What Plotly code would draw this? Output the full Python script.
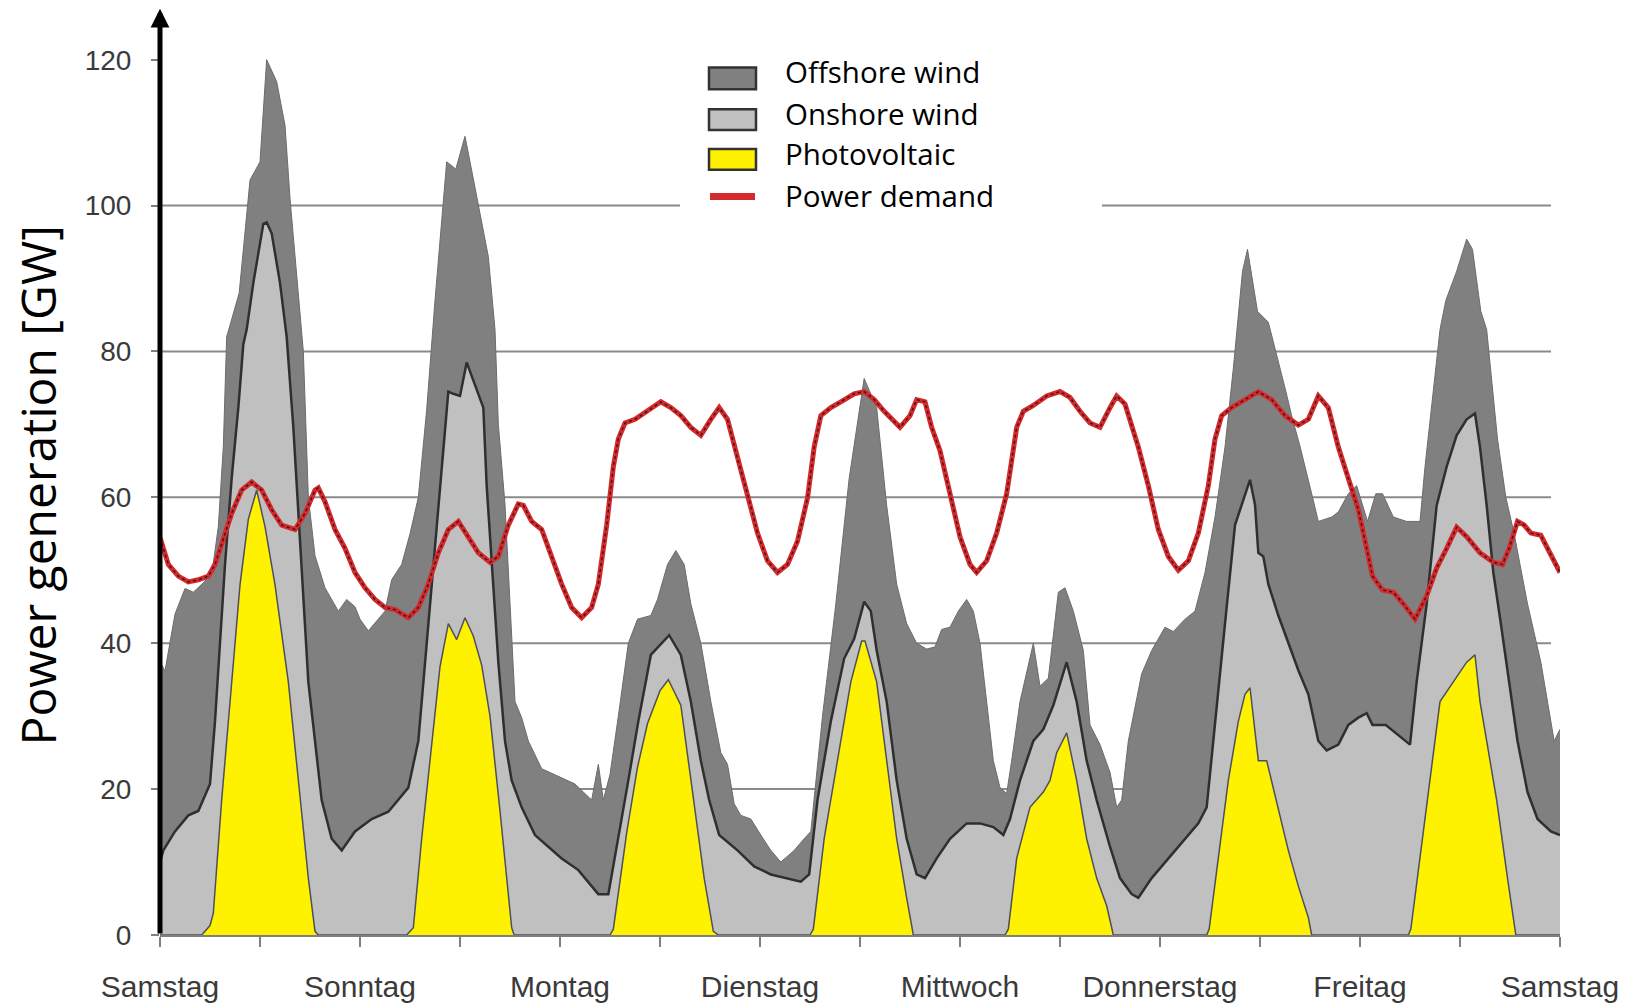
import plotly.graph_objects as go

# Hours are counted from Saturday 00:00; values in GW.
# The areas are stacked: PV at the bottom, onshore wind on top of PV,
# offshore wind on top of both.  Each list holds the upper edge of a layer.
offshore_top = [
    (0, 37.5), (0.6, 36.2), (1.8, 44), (3, 47.5), (4, 47), (5.4, 48.5), (6.4, 51), (7, 56),
    (7.6, 67), (8, 82), (9.5, 88), (10.8, 103.5), (12, 106), (12.8, 120), (14, 117), (15, 111),
    (15.6, 101), (16.8, 85), (17.2, 80), (17.8, 60), (18.6, 52), (19.8, 47.6), (21.4, 44.4),
    (22.4, 46), (23.4, 45), (24, 43.3), (25, 41.7), (27, 44.4), (27.8, 48.7), (29, 50.8),
    (30, 55), (31, 60), (32, 72), (33, 87), (34, 100), (34.4, 106), (35.5, 105), (36.6, 109.5),
    (37.2, 106), (38.5, 98), (39.4, 93), (40.2, 83), (40.6, 70), (41.4, 59), (42, 45), (42.6, 32),
    (43.4, 29.8), (44.2, 26.6), (45.8, 22.8), (47.8, 21.8), (49.8, 20.7), (51.8, 18.5),
    (52.6, 23.4), (53.2, 18.5), (54, 22), (55, 30), (56.2, 40), (57.3, 43.3), (58.9, 43.8),
    (59.7, 46), (60.9, 50.8), (61.9, 52.7), (62.9, 50.8), (63.7, 45.4), (64.9, 40), (66.1, 32),
    (67.3, 25), (68.1, 23.4), (68.9, 18), (69.7, 16.4), (70.9, 15.9), (72.1, 13.7), (73.3, 11.6),
    (74.5, 10), (76.1, 11.6), (77.3, 13.2), (78.1, 14.2), (79.5, 30), (81.1, 45.4), (82.7, 62.6),
    (84.5, 76.3), (86, 72.3), (87.2, 58.9), (88.4, 48.1), (89.6, 42.7), (90.8, 40), (92, 39.2),
    (93, 39.5), (93.8, 41.9), (94.8, 42.2), (95.8, 44.4), (96.8, 46), (97.6, 44.4), (98.4, 40),
    (99.2, 32), (100, 23.9), (100.8, 20.2), (101.6, 19.4), (102.2, 23.9), (103.2, 32), (104.8, 40),
    (105.6, 34.1), (106.6, 35.2), (107.8, 47), (108.6, 47.6), (109.6, 44.4), (110.8, 39),
    (111.6, 28.8), (112.8, 26.1), (114, 22.3), (114.8, 17.5), (115.4, 18.5), (116.2, 26.6),
    (117.8, 35.8), (119, 39), (120.6, 42.2), (121.6, 41.6), (123, 43.3), (124.2, 44.4),
    (125.4, 49.7), (126.6, 57.3), (127.8, 66.9), (128.8, 77.7), (129.9, 91), (130.5, 94),
    (131.7, 85.5), (133, 84), (134.2, 78.8), (135, 75), (135.8, 71.2), (136.8, 67), (138.2, 60.5),
    (139, 56.7), (140.6, 57.3), (141.4, 58), (142.6, 60.5), (143.6, 61.6), (144.9, 56.7),
    (145.9, 60.5), (146.7, 60.5), (148, 57.3), (149.6, 56.7), (151.2, 56.7), (151.8, 64.2),
    (152.6, 72.3), (153.6, 83), (154.3, 87), (155.6, 91), (156.8, 95.4), (157.5, 94), (158.5, 85.5),
    (159.2, 83), (160.5, 68), (161.5, 60), (162.5, 55), (164.1, 45.4), (165.7, 37.4), (166.9, 29.3),
    (167.3, 26.6), (168, 28.2),
]

onshore_top = [
    (0, 10), (0.4, 11.6), (1.8, 14.2), (3.4, 16.4), (4.6, 17), (6, 20.7), (6.6, 29.3), (7.2, 40),
    (7.8, 50.8), (8.6, 62.6), (9.4, 72.3), (10, 81), (10.4, 83), (11.2, 89.4), (12.4, 97.5),
    (12.8, 97.7), (13.4, 96.2), (14.4, 89.4), (15.2, 82), (16, 69.6), (17, 50.8), (17.8, 34.7),
    (18.6, 26.6), (19.4, 18.5), (20.6, 13.2), (21.8, 11.6), (23.4, 14.2), (25.4, 15.9),
    (27.4, 16.9), (28.6, 18.5), (29.8, 20.2), (31, 26.6), (32.2, 42.7), (33.4, 58.9), (34.6, 74.5),
    (35.2, 74.2), (36, 73.9), (36.8, 78.5), (37.8, 75.5), (38.8, 72.3), (39.2, 61.6), (39.8, 50.8),
    (40.6, 37.4), (41.4, 26.6), (42.2, 21.2), (43.4, 17.5), (45, 13.7), (46.6, 12.1), (48.2, 10.5),
    (50.2, 8.9), (51.4, 7.3), (52.6, 5.6), (53.8, 5.6), (55, 13.2), (56.2, 21.2), (57.4, 29.3),
    (58.9, 38.4), (61.1, 41.1), (62.5, 38.4), (63.7, 32), (64.9, 23.9), (65.9, 18.5), (67.1, 13.7),
    (69.3, 11.6), (71.3, 9.4), (73.3, 8.3), (75.3, 7.8), (76.9, 7.3), (77.9, 8.3), (78.9, 18.5),
    (80.5, 29.3), (82.1, 37.9), (83.3, 40.6), (84.5, 45.7), (85.3, 44.4), (86, 39), (87.2, 32),
    (88.4, 21.2), (89.6, 13.2), (90.8, 8.3), (91.8, 7.8), (93.2, 10.5), (94.8, 13.2), (96.8, 15.3),
    (98.4, 15.3), (100, 14.8), (101.2, 13.7), (102, 15.9), (103.2, 21.2), (104.8, 26.6), (106, 28.2),
    (107.2, 31.5), (108.8, 37.4), (110, 32), (111.2, 23.9), (112.4, 18.5), (114, 12.1), (115.2, 7.8),
    (116.6, 5.6), (117.4, 5.1), (119, 7.8), (121, 10.5), (123, 13.2), (124.6, 15.3), (125.6, 17.5),
    (126.6, 29.3), (127.8, 42.7), (129, 56.2), (130.2, 60.5), (130.8, 62.4), (131.4, 59),
    (131.8, 52.4), (132.4, 51.9), (133, 48.1), (134.2, 43.8), (135.4, 40), (136.6, 36.3),
    (137.8, 33), (139, 26.6), (140, 25.3), (141.4, 26.1), (142.6, 28.8), (143.8, 29.8),
    (144.8, 30.4), (145.5, 28.8), (147.1, 28.8), (148.8, 27.2), (150, 26.1), (150.8, 34.7),
    (152, 45.4), (153.2, 58.9), (154.4, 64.2), (155.6, 68.5), (156.8, 70.7), (157.8, 71.5),
    (158.4, 66.9), (159.2, 58.9), (160, 49.7), (160.9, 42.7), (161.7, 36.3), (162.9, 26.6),
    (164.1, 19.6), (165.3, 15.9), (166.9, 14.2), (168, 13.7),
]

pv_top = [
    (0, 0), (5, 0), (6, 1.3), (6.4, 3), (7.4, 18.5), (8.6, 35), (9.6, 48), (10.6, 57), (11.6, 61),
    (12.6, 56), (13.8, 48), (15.4, 34.7), (16.6, 21.2), (17.8, 7.8), (18.6, 0.5), (19, 0),
    (29.6, 0), (30.4, 1), (31.4, 13.2), (32.6, 26.6), (33.6, 36.8), (34.6, 42.7), (35.6, 40.5),
    (36.6, 43.5), (37.6, 41), (38.6, 37), (39.6, 30), (40.8, 17), (42.2, 1), (42.5, 0),
    (54, 0), (54.4, 0.8), (55, 6), (56, 14), (57.3, 23), (58.5, 29), (60, 33.5), (61, 35),
    (62.5, 31.5), (63.7, 21.2), (65.3, 7.8), (66.4, 0.5), (67, 0),
    (78, 0), (78.4, 0.8), (79.7, 13.2), (81.3, 23.9), (82.9, 34.7), (84.2, 40.3), (84.6, 40.3),
    (86, 34.7), (87.2, 23.9), (88.4, 13.2), (89.6, 5.1), (90.4, 0),
    (101.4, 0), (101.8, 0.8), (102.8, 10.5), (104.4, 17.5), (106, 19.6), (106.8, 21.2),
    (107.6, 25), (108.8, 27.7), (110, 21.2), (111.2, 13.2), (112.4, 7.8), (113.6, 4), (114.4, 0),
    (125.6, 0), (125.9, 0.8), (127, 10.5), (128.2, 21.2), (129.4, 29.3), (130.2, 33), (130.8, 33.9),
    (131.8, 23.9), (132.8, 23.9), (134.2, 17.5), (135.4, 11.6), (136.6, 6.7), (137.8, 2.4),
    (138.2, 0),
    (149.8, 0), (150.1, 0.8), (151.2, 10.5), (152.4, 21.2), (153.6, 32), (155.2, 34.7),
    (156.8, 37.4), (157.8, 38.4), (158.4, 32), (159.2, 26.6), (160.4, 18.5), (161.7, 7.8),
    (162.7, 0), (168, 0),
]

demand = [
    (0, 54.5), (1, 50.8), (2.2, 49.2), (3.4, 48.4), (4.6, 48.7), (5.8, 49.2), (6.6, 50.8),
    (7.4, 53.5), (8.6, 57.8), (9.8, 61), (11, 62.1), (12.2, 61), (13.4, 58.3), (14.6, 56.2),
    (16.2, 55.6), (17.4, 57.8), (18.6, 61), (19, 61.3), (19.8, 59.4), (21, 55.6), (22.2, 53),
    (23.4, 49.7), (24.6, 47.6), (25.8, 46), (27, 44.9), (28.2, 44.6), (29.8, 43.5), (31, 44.9),
    (32.2, 48.1), (33.4, 52.4), (34.6, 55.6), (35.8, 56.7), (37, 54.6), (38.2, 52.4), (39.6, 51.1),
    (40.6, 51.9), (41.8, 56.2), (43, 59.1), (43.6, 58.9), (44.6, 56.7), (45.8, 55.6), (47, 51.9),
    (48.2, 48.1), (49.4, 44.9), (50.6, 43.5), (51.8, 44.9), (52.6, 48.1), (53.6, 56.2),
    (54.4, 64.2), (55, 68), (55.8, 70.2), (57, 70.7), (58.5, 71.8), (60.1, 73.1), (61.3, 72.3),
    (62.5, 71.2), (63.7, 69.6), (64.9, 68.5), (66.1, 70.7), (67.1, 72.3), (68.1, 70.7),
    (69.3, 65.3), (70.5, 60.5), (71.7, 55.1), (72.9, 51.3), (74.1, 49.7), (75.3, 50.8), (76.5, 54),
    (77.7, 59.9), (78.5, 66.9), (79.3, 71.2), (80.5, 72.3), (81.7, 73.1), (83.3, 74.2),
    (84.5, 74.5), (85.7, 73.4), (86.9, 71.8), (88.8, 69.6), (90, 71.2), (90.8, 73.4), (91.8, 73.1),
    (92.6, 69.6), (93.6, 66.4), (94.8, 60.5), (96, 54.6), (97.2, 50.8), (98, 49.7), (99.2, 51.3),
    (100.4, 55.1), (101.6, 60.5), (102.8, 69.6), (103.6, 71.8), (104.8, 72.6), (106.4, 73.9),
    (108, 74.5), (109.2, 73.7), (110.4, 71.8), (111.6, 70.2), (112.8, 69.6), (114, 72.3),
    (114.8, 73.9), (115.8, 72.8), (117.4, 66.9), (118.6, 61.6), (119.8, 55.6), (121, 51.9),
    (122.2, 50), (123.4, 51.3), (124.6, 55.1), (125.8, 61.6), (126.6, 68), (127.4, 71.2),
    (128.6, 72.3), (130.2, 73.4), (131.8, 74.5), (133.4, 73.4), (135, 71.2), (136.6, 69.9),
    (137.8, 70.7), (139, 73.9), (140.2, 72.3), (141.4, 66.9), (142.6, 62.6), (143.8, 58.3),
    (144.8, 53), (145.5, 49.2), (146.7, 47.3), (148, 47), (149.2, 45.4), (150.6, 43.3), (152, 46.5),
    (153.2, 50.3), (154.4, 53), (155.6, 55.9), (156.8, 54.6), (158.4, 52.4), (160, 51.1),
    (161.1, 50.8), (161.9, 53), (162.9, 56.7), (163.7, 56.2), (164.5, 55.1), (165.7, 54.8),
    (166.5, 53), (167.7, 50.3), (168, 49.7),
]

day_names = ["Samstag", "Sonntag", "Montag", "Dienstag", "Mittwoch",
             "Donnerstag", "Freitag", "Samstag"]
y_tick_values = [0, 20, 40, 60, 80, 100, 120]
grid_levels = [20, 40, 60, 80, 100]
legend_labels = ["Offshore wind", "Onshore wind", "Photovoltaic", "Power demand"]

OFFSHORE_FILL = "#808080"
ONSHORE_FILL = "#c0c0c0"
PV_FILL = "#fff200"
DEMAND_RED = "#d42a2e"


def split(pairs):
    xs, ys = zip(*pairs)
    return list(xs), list(ys)


fig = go.Figure()

# Layers are painted top level first, each filled down to zero,
# so the lower layers cover the parts of the ones behind them.
for pairs, fill, edge, width in [
    (offshore_top, OFFSHORE_FILL, "#6c6c6c", 1),
    (onshore_top, ONSHORE_FILL, "#2f2f2f", 2.5),
    (pv_top, PV_FILL, "#4f4f5c", 1.5),
]:
    xs, ys = split(pairs)
    fig.add_trace(go.Scatter(
        x=xs, y=ys, mode="lines", fill="tozeroy", fillcolor=fill,
        line=dict(color=edge, width=width), showlegend=False, hoverinfo="skip",
    ))

dx, dy = split(demand)
fig.add_trace(go.Scatter(x=dx, y=dy, mode="lines", line=dict(color=DEMAND_RED, width=5),
                         showlegend=False, hoverinfo="skip"))
fig.add_trace(go.Scatter(x=dx, y=dy, mode="lines",
                         line=dict(color="rgba(45,15,15,0.85)", width=1.5, dash="3px,3px"),
                         showlegend=False, hoverinfo="skip"))

# Horizontal grid lines (drawn behind the areas)
for g in grid_levels:
    fig.add_shape(type="line", xref="paper", x0=0, x1=0.9936, yref="y", y0=g, y1=g,
                  line=dict(color="#8a8a8a", width=2), layer="below")

# Key box: white panel, swatches and labels
PL, PW, PB, PH = 160, 1400, 942, 937


def px_x(v):
    return (v - PL) / PW


def px_y(v):
    return (PB - v) / PH


fig.add_shape(type="rect", xref="paper", yref="paper",
              x0=px_x(680), x1=px_x(1102), y0=px_y(222), y1=px_y(50),
              fillcolor="white", line=dict(width=0), layer="below")

swatches = [(OFFSHORE_FILL, 68, 90), (ONSHORE_FILL, 110, 131), (PV_FILL, 150, 171)]
for fill, top, bottom in swatches:
    fig.add_shape(type="rect", xref="paper", yref="paper",
                  x0=px_x(709), x1=px_x(756), y0=px_y(bottom), y1=px_y(top),
                  fillcolor=fill, line=dict(color="#333333", width=2.5), layer="above")
fig.add_shape(type="line", xref="paper", yref="paper",
              x0=px_x(710), x1=px_x(755), y0=px_y(198), y1=px_y(198),
              line=dict(color=DEMAND_RED, width=7), layer="above")

for label, cy in zip(legend_labels, [72, 114, 155, 197]):
    fig.add_annotation(text=label, xref="paper", yref="paper", x=px_x(783), y=px_y(cy),
                       xanchor="left", yanchor="middle", showarrow=False,
                       font=dict(family="Open Sans", size=29.5, color="black"))

# Vertical axis drawn as a black arrow
fig.add_annotation(x=0, y=127, ax=0, ay=0, xref="x", yref="y", axref="x", ayref="y",
                   text="", showarrow=True, arrowhead=2, arrowsize=0.75, arrowwidth=5,
                   arrowcolor="black")

fig.add_annotation(text="Power generation [GW]", xref="paper", yref="paper",
                   x=px_x(37), y=px_y(489), textangle=-90, showarrow=False,
                   xanchor="center", yanchor="middle",
                   font=dict(family="Open Sans", size=48, color="black"))

x_ticks = list(range(0, 169, 12))
x_text = [day_names[t // 24] if t % 24 == 0 else "" for t in x_ticks]

fig.update_layout(
    width=1635, height=1008,
    margin=dict(l=PL, r=1635 - PL - PW, t=5, b=1008 - PB),
    paper_bgcolor="white", plot_bgcolor="white",
    showlegend=False,
    xaxis=dict(range=[0, 168], tickvals=x_ticks, ticktext=x_text, ticks="outside",
               ticklen=10, tickwidth=2, tickcolor="#7f7f7f", showline=True,
               linecolor="#7f7f7f", linewidth=2, showgrid=False, zeroline=False,
               ticklabelstandoff=14,
               tickfont=dict(family="Liberation Sans", size=30, color="#3a3a3a")),
    yaxis=dict(range=[0, 127.5], tickvals=y_tick_values, ticks="outside", ticklen=8,
               tickwidth=2, tickcolor="#7f7f7f", showline=False, showgrid=False,
               zeroline=False, ticklabelstandoff=14,
               tickfont=dict(family="Liberation Sans", size=28, color="#3a3a3a")),
)

fig.write_html("out.html")
